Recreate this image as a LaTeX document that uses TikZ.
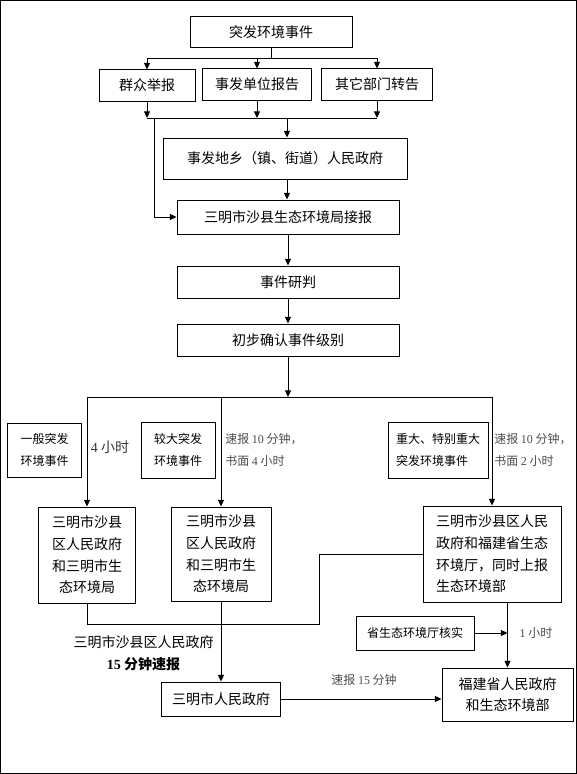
\documentclass[tikz,border=0pt]{standalone}
\usepackage{fontspec}
\setmainfont{Liberation Serif}
\newfontfamily\cjk{Noto Sans CJK SC}
\usepackage{tikz}
\usetikzlibrary{arrows.meta, positioning, calc}

\newcommand{\boxfont}{\cjk\fontsize{10.5pt}{16.3pt}\selectfont}
\newcommand{\smallfont}{\cjk\fontsize{9pt}{16.5pt}\selectfont}
\newcommand{\dig}[1]{{\rmfamily #1}}

\begin{document}
\begin{tikzpicture}[x=0.75pt, y=-0.75pt,
  box/.style={draw, line width=0.75pt, inner sep=2pt, align=center, font=\boxfont},
  sbox/.style={box, font=\smallfont},
  sz/.style 2 args={minimum width=#1*0.75pt, minimum height=#2*0.75pt},
  ln/.style={line width=0.75pt},
  arr/.style={ln, -{Triangle[length=5pt,width=4.5pt]}},
  note/.style={font=\smallfont, text=black!70, align=left, inner sep=0pt},
]
\useasboundingbox (0,0) rectangle (577,774);
% Frame
\draw[ln] (0.5,0.5) rectangle (576.5,773.5);

% Reporting sources
\node[box, sz={162}{31}] (event) at (271,32.5) {突发环境事件};
\node[box, sz={96}{31}] (qunzhong) at (147,85.5) {群众举报};
\node[box, sz={109}{31}] (danwei) at (257,84.5) {事发单位报告};
\node[box, sz={111}{31}] (bumen) at (377,84.5) {其它部门转告};

% Main chain
\node[box, sz={244}{41}] (xiangzhen) at (285,158.5) {事发地乡（镇、街道）人民政府};
\node[box, sz={222}{34}] (jiebao) at (288,217) {三明市沙县生态环境局接报};
\node[box, sz={222}{32}] (yanpan) at (288,282) {事件研判};
\node[box, sz={222}{32}] (jibie) at (288,340) {初步确认事件级别};

% Event levels
\node[sbox, sz={74}{54}] (yiban) at (44.5,450) {一般突发\\环境事件};
\node[sbox, sz={74}{56}] (jiaoda) at (178,450) {较大突发\\环境事件};
\node[sbox, sz={100}{56}, align=left] (zhongda) at (438,450) {重大、特别重大\\突发环境事件};

% Receivers
\node[box, sz={97}{96}] (quA) at (87,555) {三明市沙县\\区人民政府\\和三明市生\\态环境局};
\node[box, sz={100}{94}] (quB) at (221,554) {三明市沙县\\区人民政府\\和三明市生\\态环境局};
\node[box, sz={138}{96}, align=left] (fujianting) at (492,554) {三明市沙县区人民\\政府和福建省生态\\环境厅，同时上报\\生态环境部};
\node[box, sz={119}{34}] (shizf) at (221,699) {三明市人民政府};
\node[sbox, sz={118}{34}] (heshi) at (415,633) {省生态环境厅核实};
\node[box, sz={131}{53}] (shengzf) at (507.5,694.5) {福建省人民政府\\和生态环境部};

% Source arrows
\draw[arr] (event.south) -- ++(0,10) -| (qunzhong.north);
\draw[arr] (event.south) -- ++(0,10) -| (danwei.north);
\draw[arr] (event.south) -- ++(0,10) -| (bumen.north);

\coordinate (hub) at (287,118);
\coordinate (bypass) at (154,118);
\draw[arr] (qunzhong.south) -- (qunzhong.south |- hub);
\draw[arr] (danwei.south) -- (danwei.south |- hub);
\draw[arr] (bumen.south) -- (bumen.south |- hub);
\draw[ln] (qunzhong.south |- hub) -- (bumen.south |- hub);
\draw[arr] (hub) -- (hub |- xiangzhen.north);
\draw[arr] (bypass) |- (jiebao.west);

\draw[arr] (hub |- xiangzhen.south) -- (hub |- jiebao.north);
\draw[arr] (jiebao.south) -- (yanpan.north);
\draw[arr] (yanpan.south) -- (jibie.north);

% Split by level
\coordinate (split) at (288,397);
\draw[arr] (jibie.south) -- (split);
\draw[ln] (quA.north |- split) -- (fujianting.north |- split);
\draw[arr] (quA.north |- split) -- (quA.north);
\draw[arr] (quB.north |- split) -- (quB.north);
\draw[arr] (fujianting.north |- split) -- (fujianting.north);

% Lower links
\coordinate (bend) at (319.5,624);
\draw[ln] (quA.south) |- (bend) |- (fujianting.west);
\draw[arr] (quB.south) -- (shizf.north);
\draw[arr] (fujianting.south -| shengzf.north) -- (shengzf.north);
\draw[arr] (heshi.east) -- (heshi.east -| shengzf.north);
\draw[arr] (shizf.east) -- (shizf.east -| shengzf.west);

% Time labels
\node[font=\boxfont, text=black!80, inner sep=0pt] (t4h) at (110,447) {\dig{4} 小时};
\node[note, anchor=west] (tjiaoda) at (225,450) {速报 \dig{10} 分钟，\\书面 \dig{4} 小时};
\node[note, anchor=west] (tzhongda) at (494,450) {速报 \dig{10} 分钟，\\书面 \dig{2} 小时};
\node[font=\boxfont, align=center, inner sep=0pt] (tsuqu) at (143.5,653) {三明市沙县区人民政府\\\textbf{\dig{15} 分钟速报}};
\node[note] (t15) at (364,680) {速报 \dig{15} 分钟};
\node[note] (t1h) at (536,633) {\dig{1} 小时};

\end{tikzpicture}
\end{document}
